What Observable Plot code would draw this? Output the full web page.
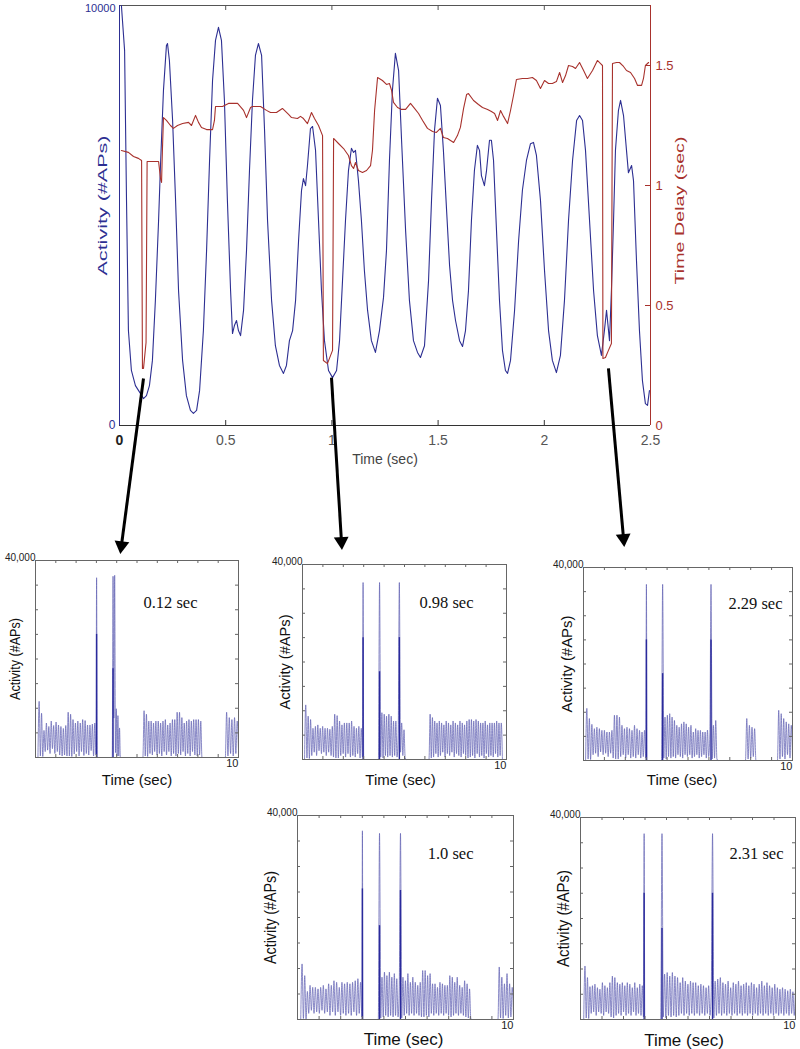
<!DOCTYPE html>
<html><head><meta charset="utf-8">
<script src="https://cdn.jsdelivr.net/npm/d3@7"></script>
<script src="https://cdn.jsdelivr.net/npm/@observablehq/plot@0.6"></script>
<style>
body{margin:0;background:#fff;}
#fig{position:relative;width:800px;height:1049px;overflow:hidden;background:#fff;}
#fig svg{position:absolute;overflow:visible;}
</style></head><body><div id="fig"></div>
<script>
// ---------------- DATA ----------------
// main chart: activity (#APs) vs time (sec)
const mainTimeDomain = [0, 2.5];
const mainTimeTicks = [0, 0.5, 1, 1.5, 2, 2.5];
const activityDomain = [0, 10000];
const activityTicks = [0, 10000];
const delayDomain = [0, 1.75];
const delayTicks = [0, 0.5, 1, 1.5];
const xTitleMain = "Time (sec)";
const activityTitle = "Activity (#APs)";
const delayTitle = "Time Delay (sec)";

const activity = [[0.009,10000],[0.024,8930],[0.033,5360],[0.042,2260],[0.056,1310],[0.075,950],[0.099,760],[0.113,640],[0.127,710],[0.141,950],[0.155,1550],[0.169,2980],[0.184,4880],[0.193,6190],[0.207,7980],[0.221,9050],[0.226,9095],[0.235,8690],[0.250,7260],[0.264,5360],[0.278,3210],[0.297,1550],[0.315,710],[0.334,360],[0.348,290],[0.363,360],[0.377,830],[0.395,2260],[0.410,4170],[0.424,6310],[0.438,8210],[0.452,9170],[0.466,9480],[0.480,9170],[0.494,7740],[0.508,5360],[0.523,3210],[0.532,2190],[0.541,2380],[0.551,2500],[0.560,2260],[0.570,2140],[0.584,2740],[0.598,4170],[0.612,6070],[0.626,7740],[0.640,8810],[0.654,9095],[0.669,8810],[0.683,7020],[0.697,4880],[0.716,2980],[0.734,1900],[0.753,1430],[0.772,1240],[0.786,1430],[0.800,2020],[0.815,2260],[0.829,2980],[0.843,4400],[0.857,5600],[0.866,5880],[0.876,5710],[0.885,6190],[0.899,7070],[0.909,7120],[0.923,6550],[0.937,4880],[0.951,3210],[0.965,2020],[0.984,1310],[1.003,1140],[1.022,1310],[1.036,2020],[1.050,3450],[1.064,4880],[1.078,6070],[1.092,6600],[1.102,6500],[1.111,6550],[1.125,5830],[1.139,4880],[1.153,3690],[1.168,2740],[1.186,2020],[1.205,1740],[1.224,2260],[1.243,3050],[1.257,4170],[1.271,6310],[1.285,7980],[1.299,8860],[1.314,8450],[1.328,6790],[1.347,4640],[1.365,2980],[1.384,2020],[1.403,1740],[1.417,1620],[1.436,1900],[1.455,3450],[1.469,5360],[1.483,7020],[1.497,7790],[1.511,7620],[1.525,6550],[1.540,5120],[1.554,3810],[1.568,2980],[1.582,2500],[1.601,2020],[1.615,1880],[1.629,2260],[1.643,3210],[1.657,4880],[1.671,6070],[1.685,6670],[1.695,6550],[1.704,5950],[1.718,5710],[1.728,6070],[1.742,6790],[1.751,6790],[1.761,6310],[1.775,4640],[1.789,2980],[1.803,1790],[1.817,1310],[1.827,1240],[1.841,1550],[1.860,2740],[1.879,4400],[1.897,5600],[1.916,6310],[1.935,6710],[1.949,6740],[1.963,6430],[1.982,5360],[2.001,3690],[2.020,2260],[2.038,1550],[2.057,1260],[2.076,1670],[2.095,2980],[2.114,4880],[2.133,6310],[2.152,7260],[2.166,7380],[2.180,7260],[2.194,6550],[2.213,4880],[2.232,3210],[2.250,2140],[2.269,1670],[2.283,2260],[2.293,2740],[2.307,2020],[2.316,3210],[2.326,4880],[2.335,6550],[2.349,7500],[2.359,7740],[2.373,7380],[2.387,6550],[2.396,6020],[2.411,6190],[2.420,5830],[2.434,3930],[2.448,2260],[2.462,1070],[2.476,520],[2.486,480],[2.495,830]];

const delay = [[0.009,1.146],[0.042,1.138],[0.066,1.121],[0.089,1.113],[0.104,1.104],[0.108,0.238],[0.113,0.238],[0.125,0.346],[0.130,1.10],[0.155,1.10],[0.184,1.10],[0.193,1.029],[0.198,1.013],[0.202,1.146],[0.207,1.283],[0.221,1.271],[0.240,1.25],[0.254,1.238],[0.273,1.25],[0.297,1.258],[0.325,1.263],[0.339,1.25],[0.358,1.292],[0.372,1.263],[0.386,1.242],[0.410,1.233],[0.438,1.233],[0.447,1.271],[0.452,1.329],[0.485,1.329],[0.513,1.342],[0.556,1.342],[0.584,1.313],[0.598,1.283],[0.617,1.325],[0.626,1.329],[0.664,1.329],[0.692,1.313],[0.711,1.304],[0.739,1.304],[0.767,1.321],[0.796,1.296],[0.810,1.283],[0.838,1.279],[0.852,1.288],[0.866,1.279],[0.885,1.258],[0.904,1.304],[0.918,1.279],[0.937,1.25],[0.956,1.208],[0.960,0.271],[0.979,0.258],[1.003,0.313],[1.008,1.196],[1.031,1.175],[1.055,1.154],[1.078,1.125],[1.092,1.083],[1.102,1.071],[1.111,1.096],[1.125,1.0625],[1.144,1.054],[1.163,1.0625],[1.182,1.083],[1.191,1.146],[1.201,1.3125],[1.215,1.45],[1.238,1.4375],[1.257,1.421],[1.271,1.425],[1.281,1.396],[1.290,1.346],[1.309,1.325],[1.328,1.317],[1.347,1.317],[1.370,1.342],[1.389,1.321],[1.408,1.30],[1.427,1.271],[1.450,1.238],[1.474,1.225],[1.492,1.221],[1.511,1.238],[1.525,1.20],[1.544,1.196],[1.573,1.179],[1.591,1.208],[1.605,1.242],[1.620,1.321],[1.634,1.379],[1.643,1.383],[1.667,1.354],[1.690,1.3375],[1.709,1.325],[1.733,1.317],[1.751,1.308],[1.766,1.30],[1.780,1.271],[1.794,1.3125],[1.808,1.288],[1.827,1.258],[1.841,1.3125],[1.855,1.375],[1.869,1.442],[1.897,1.446],[1.921,1.446],[1.944,1.45],[1.963,1.4375],[1.982,1.404],[2.001,1.4375],[2.020,1.425],[2.038,1.425],[2.057,1.433],[2.072,1.471],[2.086,1.429],[2.100,1.458],[2.114,1.50],[2.133,1.496],[2.147,1.4875],[2.166,1.5125],[2.185,1.479],[2.203,1.446],[2.227,1.479],[2.250,1.521],[2.265,1.508],[2.274,1.50],[2.276,0.279],[2.288,0.283],[2.302,0.313],[2.316,0.342],[2.321,1.508],[2.340,1.5125],[2.354,1.5125],[2.373,1.496],[2.387,1.479],[2.406,1.471],[2.425,1.446],[2.439,1.417],[2.458,1.417],[2.467,1.446],[2.476,1.50],[2.491,1.5125]];

// arrows (main chart coordinates: time, activity)
const arrowFrom = [[0.113,1120],[0.998,1140],[2.302,1360]];
const arrowTo = [[0.009,-2860],[1.045,-2760],[2.373,-2690]];

// small panels: activity (thousands of APs) over 10 s; pieces = [tStart, tEnd, evenly spaced values]
const smallXDomain = [0, 10];
const smallYDomain = [0, 40];
const smallXTicks = [1,2,3,4,5,6,7,8,9];
const smallYTicks = [5,10,15,20,25,30,35];
const smallYMaxLabel = "40,000";
const smallXMaxLabel = "10";
const smallXTitle = "Time (sec)";
const smallYTitle = "Activity (#APs)";
const panelTags = ["0.12 sec", "0.98 sec", "2.29 sec", "1.0 sec", "2.31 sec"];

const p012 = [
  [0.12, 2.98, [0,11.4,0.3,9.0,0.2,5.5,1.2,7.0,1.5,6.3,0.8,7.4,1.8,6.5,0.8,7.2,1.2,6.6,0.5,6.3,0.3,5.9,0.5,6.5,0.3,9.2,0.3,8.8,0.2,7.7,0.7,7.0,1.2,7.4,0.3,7.0,1.2,7.7,0.4,7.5,0.8,6.6,0.5,6.6,1.4,6.8,0.3,7.0,0.5]],
  [2.98, 3.04, [0.5,36.5,0]],
  [3.78, 4.18, [0,36.8,8.0,37.0,1.0,9.9,0.3,8.5,0.3,6.0,0]],
  [5.29, 8.2, [0,9.5,0.3,8.8,0.2,7.4,0.8,7.4,0.5,7.0,1.2,7.4,0.5,7.4,0.8,7.0,0.3,7.4,1.2,7.7,0.5,6.6,1.2,7.0,0.3,7.7,0.8,7.7,0.3,9.2,0.8,9.2,0.5,8.1,1.2,7.0,0.3,7.4,0.8,7.7,0.3,7.4,1.2,7.7,0.5,7.7,0.3,7.7,0.5,7.4,0]],
  [9.35, 10, [0,9.2,0.3,8.1,0.8,7.7,0.3,8.1,0.8,7.4,1.5]]
];
const p012Cores = [[3.01,25],[3.82,18]];

const p098 = [
  [0.1, 2.94, [0,11.2,0.3,8.9,0.2,8.2,0.8,6.4,1.5,6.8,0.8,7.1,1.8,6.4,1.2,6.8,1.5,6.4,0.8,6.4,1.5,6.2,0.8,6.8,0.5,9.3,0.3,9.0,0.3,7.9,0.8,7.1,1.2,7.5,0.5,7.5,1.2,7.5,0.5,7.9,0.8,6.8,0.5,6.4,1.2,6.8,0.3,6.4,0.5]],
  [2.94, 3.0, [0.5,36.3,0]],
  [3.72, 5.09, [0,36.3,0.5,9.6,0.3,9.3,0.8,8.9,0.5,9.3,0.8,8.9,0.5,7.9,0.8,7.9,0.5,5.0,36.3,1.5,7.5,0.8,6.1,0.3,0]],
  [6.2, 9.8, [0,9.3,0.3,8.6,0.5,7.9,1.2,7.5,0.5,7.9,0.8,7.5,1.5,7.1,0.5,7.9,1.2,7.5,0.8,7.1,1.5,7.9,0.5,7.5,1.2,7.1,0.8,7.9,0.5,7.5,1.2,7.1,0.8,7.9,0.3,8.2,0.5,8.2,0.8,7.9,0.3,8.2,1.2,7.9,0.5,7.5,0.8,7.5,0.3,7.9,1.2,7.1,0.5,7.5,0.8,7.5,0.5,7.5,1.2,7.9,0.5,7.5,0.8,7.5,0]]
];
const p098Cores = [[2.97,25],[3.777,18],[4.748,25]];

const p229 = [
  [0.1, 2.98, [0,10.8,0.3,8.7,0.2,7.5,1.2,6.6,1.5,6.9,0.8,6.6,1.8,6.25,1.2,6.25,1.5,5.9,0.8,5.9,1.5,6.25,0.5,9.4,0.3,9.4,0.3,9.0,0.8,7.3,1.2,6.6,0.5,6.9,1.2,6.6,0.5,6.25,0.8,7.3,0.5,6.6,1.2,6.25,0.5,5.9,0.8,6.25,0.5]],
  [2.98, 3.04, [0.5,36.5,0]],
  [3.73, 6.44, [0,36.5,0.5,9.0,0.3,9.4,0.8,9.7,0.5,9.0,0.8,8.3,0.5,7.3,1.2,6.9,0.8,7.6,0.5,8.0,1.2,7.6,0.8,6.9,1.2,7.3,0.5,5.9,0.8,6.6,1.2,6.25,0.5,6.25,0.8,5.9,1.2,5.9,0.5,6.3,0.8,5.5,36.5,0.3,7.3,0.5,8.3,0.3,0]],
  [7.75, 8.25, [0,8.7,0.3,7.3,0.5,6.9,0.8,6.6,0]],
  [9.28, 10, [0,10.4,0.3,9.7,0.8,8.7,0.3,8.0,1.2,7.6,0.5,7.3,0.8]]
];
const p229Cores = [[3.01,25],[3.786,18],[6.10,25]];

const p100 = [
  [0.15, 2.98, [0,10.9,0.2,8.6,0.1,5.5,1.2,6.7,1.8,6.3,1.2,6.3,1.5,6.0,1.2,6.3,1.8,6.7,1.2,6.0,1.5,7.0,0.8,6.7,1.5,7.6,0.8,7.3,1.5,6.3,0.8,7.3,1.2,7.0,0.8,7.3,1.2,7.0,0.8,7.3,1.5,7.6,0.8,8.0,1.2,7.3,0.5]],
  [2.98, 3.03, [0.5,37.0,0]],
  [3.74, 8.08, [0,36.5,0.3,8.3,0.5,9.3,0.8,8.6,0.5,9.3,0.8,8.3,0.5,9.0,0.8,8.0,0.5,6.0,36.5,0.3,8.3,0.8,7.6,1.2,9.0,0.8,7.3,1.2,8.3,0.8,7.3,1.2,6.7,0.8,7.3,0.5,9.6,0.5,9.6,0.8,8.6,0.5,9.0,1.2,7.0,0.8,7.0,1.2,6.3,0.8,7.3,1.2,7.0,0.8,6.7,1.2,6.7,0.8,8.6,0.5,8.3,0.8,7.3,1.2,8.3,0.8,6.7,1.2,6.3,0.8,7.6,0.5,7.0,0.3,6.0,0.2,0]],
  [9.28, 10, [0,10.3,0.3,8.3,0.2,7.0,0.8,9.0,0.3,7.0,0.5,6.3,0.8]]
];
const p100Cores = [[3.005,25.6],[3.797,18.4],[4.768,25.3]];

const p231 = [
  [0.15, 2.93, [0,10.6,0.3,8.3,0.2,6.5,1.2,6.7,1.5,7.0,0.8,6.3,1.5,6.0,1.2,7.3,0.8,6.7,1.5,6.3,1.2,7.3,0.5,8.6,0.3,8.3,0.8,7.3,1.2,7.0,0.8,7.3,1.5,6.7,0.8,7.3,1.2,7.0,0.8,6.3,1.5,7.3,0.8,6.3,1.2,7.0,0.8,6.7,0.5]],
  [2.93, 2.99, [0.5,36.8,0]],
  [3.73, 10, [0,36.8,0.5,9.0,0.3,9.3,0.8,8.6,0.5,9.3,0.8,8.6,0.5,8.3,0.8,7.3,1.2,8.3,0.8,7.6,1.2,7.0,0.8,7.6,1.2,7.3,0.8,7.3,1.2,6.7,0.8,7.0,1.2,6.7,0.8,6.3,1.2,6.7,0.8,5.5,36.8,0.3,7.6,0.8,8.0,1.2,8.3,0.8,7.3,1.2,7.0,0.8,7.6,1.2,6.3,0.8,7.3,1.2,7.0,0.8,7.6,1.2,6.7,0.8,7.0,1.2,7.3,0.8,6.7,1.2,7.3,0.8,7.0,1.2,6.3,0.8,7.0,1.2,7.6,0.8,6.7,1.2,7.3,0.8,6.7,1.2,6.3,0.8,7.0,1.2,6.3,0.8,6.0,1.2,6.3,0.8,6.0,1.2,5.7,0.8,6.0,1.2,5.5,0.8,6.3]]
];
const p231Cores = [[2.96,25],[3.79,18],[6.14,25]];

const panelSeries = [p012, p098, p229, p100, p231];
const panelCores = [p012Cores, p098Cores, p229Cores, p100Cores, p231Cores];

// ---------------- LAYOUT / STYLE ----------------
const blueColor = "#2d2f92";
const redColor = "#a8322d";
const traceColor = "#6464b4";
const coreColor = "#2a2a9c";
const fig = document.getElementById("fig");
function place(svg, left, top) {
  svg.style.left = left + "px"; svg.style.top = top + "px";
  fig.appendChild(svg);
}
function stretch(svg, content, len) {
  d3.select(svg).selectAll("text").filter(function(){ return this.textContent === content; })
    .attr("textLength", len).attr("lengthAdjust", "spacingAndGlyphs");
}

const M = {width: 720, height: 570, marginLeft: 119, marginRight: 70, marginTop: 5, marginBottom: 145};
const innerW = M.width - M.marginLeft - M.marginRight;
const innerH = M.height - M.marginTop - M.marginBottom;
const mainFont = "'Liberation Sans', Arial, sans-serif";

const sx = Plot.scale({x: {domain: mainTimeDomain, range: [M.marginLeft, M.width - M.marginRight]}});
const sy = Plot.scale({y: {domain: activityDomain, range: [M.height - M.marginBottom, M.marginTop]}});
const arrows = arrowFrom.map((f, i) => {
  const t = arrowTo[i];
  const ang = Math.atan2(sx.apply(t[0]) - sx.apply(f[0]), -(sy.apply(t[1]) - sy.apply(f[1]))) * 180 / Math.PI;
  return {x1: f[0], y1: f[1], x2: t[0], y2: t[1], ang};
});
const inner = mainTimeTicks.slice(1, -1);

const bluePlot = Plot.plot({
  ...M,
  x: {domain: mainTimeDomain, axis: null},
  y: {domain: activityDomain, axis: null},
  style: {background: "transparent", overflow: "visible", fontFamily: mainFont},
  marks: [
    Plot.ruleY([activityDomain[1]], {stroke: "#555"}),
    Plot.ruleY([0], {stroke: "#333"}),
    Plot.tickX(inner, {x: d => d, insetTop: innerH - 5, stroke: "#333"}),
    Plot.tickX(inner, {x: d => d, insetBottom: innerH - 5, stroke: "#555"}),
    Plot.axisX({ticks: [0], tickSize: 0, tickPadding: 10, fontWeight: "bold", color: "#222", fontSize: 14, tickFormat: d => String(d)}),
    Plot.axisX({ticks: mainTimeTicks.slice(1), tickSize: 0, tickPadding: 10, color: "#555", fontSize: 14, tickFormat: d => String(d)}),
    Plot.axisY({ticks: [activityTicks[0]], tickSize: 0, tickPadding: 4, color: blueColor, fontSize: 12, tickFormat: d => String(d)}),
    Plot.axisY({ticks: [activityTicks[1]], tickSize: 0, tickPadding: 4, dy: 3, color: blueColor, fontSize: 11, tickFormat: d => String(d)}),
    Plot.text([xTitleMain], {frameAnchor: "bottom", dy: 38, fill: "#444", fontSize: 14}),
    Plot.text([activityTitle], {frameAnchor: "left", rotate: -90, textAnchor: "middle", dx: -16, dy: -10, fill: blueColor, fontSize: 12}),
    Plot.line(activity, {x: d => d[0], y: d => d[1], stroke: blueColor, strokeWidth: 1.1}),
    Plot.ruleX([0], {stroke: blueColor}),
    Plot.link(arrows, {x1: "x1", y1: "y1", x2: "x2", y2: "y2", stroke: "#000", strokeWidth: 3}),
    Plot.dot(arrows, {x: "x2", y: "y2", symbol: "triangle", r: 5.5, fill: "#000", stroke: "none", rotate: "ang"})
  ]
});
stretch(bluePlot, activityTitle, 140);
place(bluePlot, 0, 0);

const redPlot = Plot.plot({
  ...M,
  x: {domain: mainTimeDomain, axis: null},
  y: {domain: delayDomain, axis: null},
  style: {background: "transparent", overflow: "visible", fontFamily: mainFont},
  marks: [
    Plot.tickY(delayTicks.slice(1), {y: d => d, insetLeft: innerW - 5, stroke: redColor}),
    Plot.axisY({anchor: "right", ticks: delayTicks, tickSize: 0, tickPadding: 5, color: redColor, fontSize: 13, tickFormat: d => String(d)}),
    Plot.text([delayTitle], {frameAnchor: "right", rotate: -90, textAnchor: "middle", dx: 30, dy: -5, fill: redColor, fontSize: 12}),
    Plot.line(delay, {x: d => d[0], y: d => d[1], stroke: redColor, strokeWidth: 1.1}),
    Plot.ruleX([mainTimeDomain[1]], {stroke: redColor})
  ]
});
stretch(redPlot, delayTitle, 148);
place(redPlot, 0, 0);

// small panels
const panelLayout = [
  {frame: [35, 560, 238, 757], yDx: -20, yLen: 82, xFont: 15, yFont: 15, xDx: 0, xDy: 23, tagDx: -41, tagDy: 42},
  {frame: [302, 564, 506, 759], yDx: -17, yLen: 95, xFont: 15, yFont: 15, xDx: -4, xDy: 21, tagDx: -33, tagDy: 38},
  {frame: [583, 567, 792, 760], yDx: -16, yLen: 97, xFont: 15, yFont: 15, xDx: -6, xDy: 20, tagDx: -10, tagDy: 36},
  {frame: [297, 815, 513, 1019], yDx: -27, yLen: 93, xFont: 17, yFont: 16, xDx: -2, xDy: 20, tagDx: -40, tagDy: 38},
  {frame: [580, 817, 795, 1019], yDx: -17, yLen: 97, xFont: 17, yFont: 16, xDx: -4, xDy: 21, tagDx: -12, tagDy: 36}
];

panelLayout.forEach((lay, k) => {
  const [L, T, R, B] = lay.frame;
  const mL = 45, mR = 14, mT = 16, mB = 34;
  const w = R - L, h = B - T;
  const pts = [];
  for (const [t0, t1, vals] of panelSeries[k]) {
    const n = vals.length;
    vals.forEach((v, i) => pts.push([t0 + (t1 - t0) * i / (n - 1), v]));
  }
  const svg = Plot.plot({
    width: w + mL + mR, height: h + mT + mB,
    marginLeft: mL, marginRight: mR, marginTop: mT, marginBottom: mB,
    x: {domain: smallXDomain, axis: null},
    y: {domain: smallYDomain, axis: null},
    style: {background: "transparent", overflow: "visible", fontFamily: mainFont},
    marks: [
      Plot.line(pts, {x: d => d[0], y: d => d[1], stroke: traceColor, strokeWidth: 0.75, curve: "monotone-x"}),
      Plot.ruleX(panelCores[k], {x: d => d[0], y1: 0, y2: d => d[1], stroke: coreColor, strokeWidth: 1.4}),
      Plot.frame({stroke: "#666"}),
      Plot.tickY(smallYTicks, {y: d => d, insetRight: w - 3, stroke: "#666"}),
      Plot.tickY(smallYTicks, {y: d => d, insetLeft: w - 3, stroke: "#666"}),
      Plot.tickX(smallXTicks, {x: d => d, insetTop: h - 3, stroke: "#666"}),
      Plot.tickX(smallXTicks, {x: d => d, insetBottom: h - 3, stroke: "#666"}),
      Plot.text([smallYMaxLabel], {frameAnchor: "top-left", textAnchor: "end", lineAnchor: "middle", dy: -3, fontSize: 10, fill: "#222"}),
      Plot.text([smallXMaxLabel], {frameAnchor: "bottom-right", textAnchor: "end", lineAnchor: "top", dy: 2, fontSize: 11, fill: "#222"}),
      Plot.text([smallYTitle], {frameAnchor: "left", rotate: -90, textAnchor: "middle", dx: lay.yDx, fontSize: lay.yFont, fill: "#111"}),
      Plot.text([smallXTitle], {frameAnchor: "bottom", textAnchor: "middle", lineAnchor: "middle", dx: lay.xDx, dy: lay.xDy, fontSize: lay.xFont, fill: "#111"}),
      Plot.text([panelTags[k]], {frameAnchor: "top-right", textAnchor: "end", lineAnchor: "middle", dx: lay.tagDx, dy: lay.tagDy, fontFamily: "'Liberation Serif', 'Times New Roman', serif", fontSize: 16.5, fill: "#111"})
    ]
  });
  stretch(svg, smallYTitle, lay.yLen);
  place(svg, L - mL, T - mT);
});
</script></body></html>
